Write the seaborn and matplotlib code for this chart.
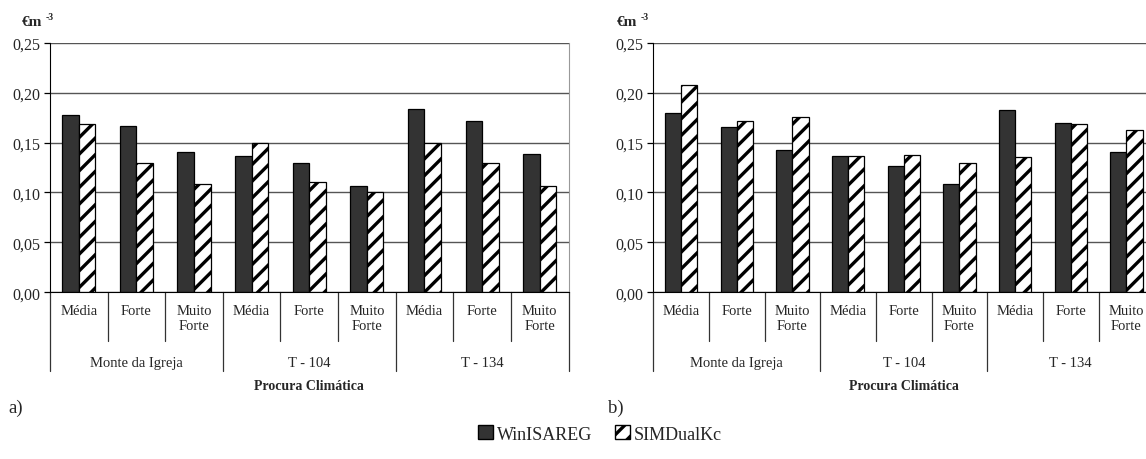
import numpy as np
import pandas as pd
import matplotlib
matplotlib.use('Agg')
import matplotlib.pyplot as plt
import matplotlib.patches as mpatches
from matplotlib.ticker import FuncFormatter
import seaborn as sns

# data (euro per m3)
locais = ['Monte da Igreja', 'T - 104', 'T - 134']
procura = ['Média', 'Forte', 'Muito\nForte']
modelos = ['WinISAREG', 'SIMDualKc']

win_a = [0.178, 0.167, 0.141, 0.137, 0.130, 0.106, 0.184, 0.172, 0.139]
sim_a = [0.169, 0.130, 0.108, 0.150, 0.110, 0.100, 0.150, 0.130, 0.106]
win_b = [0.180, 0.166, 0.143, 0.137, 0.127, 0.108, 0.183, 0.170, 0.141]
sim_b = [0.208, 0.172, 0.176, 0.137, 0.138, 0.130, 0.136, 0.169, 0.163]

cats = [f'{l}|{p}' for l in locais for p in procura]


def make_df(win, sim):
    rows = []
    for i, (w, s) in enumerate(zip(win, sim)):
        rows.append((cats[i], modelos[0], w))
        rows.append((cats[i], modelos[1], s))
    return pd.DataFrame(rows, columns=['cat', 'modelo', 'valor'])


sns.set_style('white')
plt.rcParams['font.family'] = ['Liberation Serif', 'DejaVu Serif']
plt.rcParams['hatch.linewidth'] = 2.4

W, H = 1146, 460
fig = plt.figure(figsize=(W / 100, H / 100), dpi=100)
ax_a = fig.add_axes([50 / W, 1 - 293.3 / H, 518.5 / W, 249.6 / H])
ax_b = fig.add_axes([653.3 / W, 1 - 293.3 / H, 501 / W, 249.6 / H])


def draw(ax, df, width):
    sns.barplot(data=df, x='cat', y='valor', hue='modelo', order=cats,
                hue_order=modelos, palette=['#333333', 'white'],
                width=width, edgecolor='black', linewidth=0.9,
                errorbar=None, legend=False, ax=ax)
    for bar in ax.containers[1]:
        bar.set_hatch('//')
    ax.set_xlim(-0.5, 8.5)
    ax.set_ylim(0, 0.25)
    ax.set_yticks(np.arange(0, 0.26, 0.05))
    ax.yaxis.set_major_formatter(FuncFormatter(lambda v, p: f'{v:.2f}'.replace('.', ',')))
    ax.set_xticks([])
    ax.set_xlabel('')
    ax.set_ylabel('')
    ax.set_axisbelow(True)
    ax.yaxis.grid(True, color='#555555', lw=1)
    ax.tick_params(axis='y', left=True, length=4, width=0.9, color='black',
                   labelsize=11.5, pad=3)
    ax.spines['top'].set_visible(False)
    ax.spines['right'].set_color('#999999')
    ax.spines['left'].set_color('black')
    ax.spines['bottom'].set_color('black')
    tr = ax.get_xaxis_transform()
    for k in range(9):
        ax.text(k, -0.045, procura[k % 3], transform=tr, ha='center', va='top',
                fontsize=10.5, linespacing=1.25)
    for b in np.arange(-0.5, 9, 1):
        longo = (b + 0.5) % 3 == 0
        ax.plot([b, b], [0, -0.316 if longo else -0.196], transform=tr,
                color='#333333', lw=0.9, clip_on=False)
    for g in range(3):
        ax.text(3 * g + 1, -0.28, locais[g], transform=tr, ha='center',
                va='center', fontsize=10.5)
    ax.text(4, -0.375, 'Procura Climática', transform=tr, ha='center',
            va='center', fontsize=10, fontweight='bold')


draw(ax_a, make_df(win_a, sim_a), 0.575)
draw(ax_b, make_df(win_b, sim_b), 0.58)

# unit labels
for x0 in [22, 617]:
    fig.text(x0 / W, 1 - 23 / H, '€m', fontsize=11, fontweight='bold', va='center')
    fig.text((x0 + 24) / W, 1 - 17 / H, '-3', fontsize=7, fontweight='bold', va='center')

fig.text(8 / W, 1 - 408 / H, 'a)', fontsize=13.5, va='center')
fig.text(608 / W, 1 - 408 / H, 'b)', fontsize=13.5, va='center')

handles = [mpatches.Patch(facecolor='#333333', edgecolor='black', label=modelos[0]),
           mpatches.Patch(facecolor='white', edgecolor='black', hatch='//', label=modelos[1])]
fig.legend(handles=handles, loc='center', bbox_to_anchor=(600 / W, 1 - 435 / H),
           ncol=2, frameon=False, fontsize=13, handlelength=0.8,
           handleheight=0.8, handletextpad=0.2, columnspacing=1.3)

fig.savefig('out.png', dpi=100)
